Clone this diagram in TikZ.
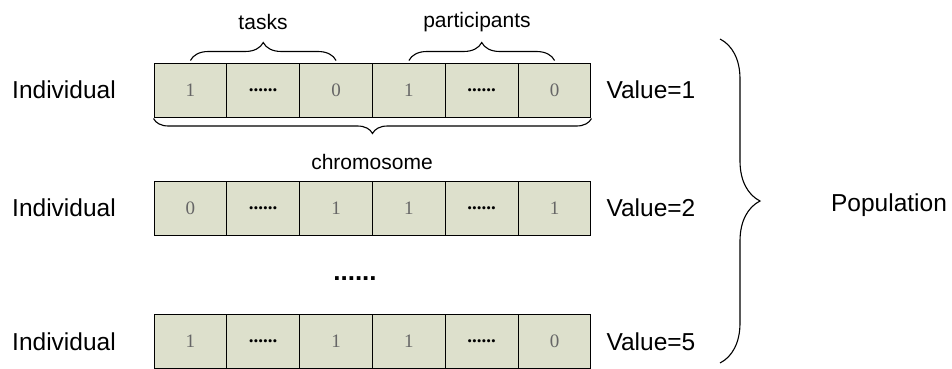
\documentclass[tikz,border=0pt]{standalone}
\usepackage{fontspec}
\setmainfont{Liberation Sans}
\newfontfamily\cellfont{Liberation Serif}
\usetikzlibrary{decorations.pathreplacing}
\definecolor{genefill}{RGB}{221,224,204}
\newcommand{\genedots}{\textcolor{black}{\bfseries......}}

\begin{document}
\begin{tikzpicture}[x=1pt,y=-1pt]
        \def\cellw{72.83}
        \tikzstyle{gene} = [draw, fill=genefill, line width=1pt, minimum width=\cellw*1pt, minimum height=54pt, inner sep=0pt, font=\cellfont\fontsize{19}{19}\selectfont, text=black!60]
        \tikzstyle{rowlabel} = [font=\fontsize{24.5}{28}\selectfont]
        \tikzstyle{valuelabel} = [anchor=west, font=\fontsize{24.5}{28}\selectfont]
        \tikzstyle{partlabel} = [font=\fontsize{21}{24}\selectfont]
        \tikzstyle{brace} = [decorate, decoration={brace, amplitude=18pt}, line width=1.1pt]
        \useasboundingbox (0,0) rectangle (952,369);
        % First individual with its genes and its value
        \node[rowlabel] (ind1) at (64, 90) {Individual};
        \foreach \v [count=\j] in {1,\genedots,0,1,\genedots,0} {
            \node[gene] (ga\j) at ({154+(\j-0.5)*\cellw}, 90) {\v};
        }
        \node[valuelabel] (val1) at (603, 90) {Value=1};
        % Braces over the two parts of the chromosome
        \draw[brace] ([yshift=2pt]ga1.north) -- ([yshift=2pt]ga3.north);
        \node[partlabel] (tasks) at (263, 22) {tasks};
        \draw[brace] ([yshift=2pt]ga4.north) -- ([yshift=2pt]ga6.north);
        \node[partlabel] (parts) at (477, 22) {participants};
        % Brace under the whole chromosome
        \draw[brace, decoration={brace, amplitude=15pt}] ([yshift=-1pt]ga6.south east) -- ([yshift=-1pt]ga1.south west);
        \node[partlabel] (chrom) at (372, 162) {chromosome};
        % Second individual
        \node[rowlabel] (ind2) at (64, 208) {Individual};
        \foreach \v [count=\j] in {0,\genedots,1,1,\genedots,1} {
            \node[gene] (gb\j) at ({154+(\j-0.5)*\cellw}, 208) {\v};
        }
        \node[valuelabel] (val2) at (603, 208) {Value=2};
        % Dots to show that more individuals follow
        \node[font=\fontsize{26}{26}\selectfont\bfseries] (rowdots) at (355, 279) {......};
        % Last individual
        \node[rowlabel] (ind5) at (64, 341.5) {Individual};
        \foreach \v [count=\j] in {1,\genedots,1,1,\genedots,0} {
            \node[gene] (gc\j) at ({154+(\j-0.5)*\cellw}, 341.5) {\v};
        }
        \node[valuelabel] (val5) at (603, 341.5) {Value=5};
        % Brace that gathers the individuals into the population
        \coordinate (poptop) at (720, 39);
        \coordinate (popbot) at (720, 363);
        \draw[brace, decoration={brace, amplitude=40pt}] (poptop) -- (popbot);
        \node[rowlabel] (pop) at (889, 205) {Population};

    \end{tikzpicture}
\end{document}
